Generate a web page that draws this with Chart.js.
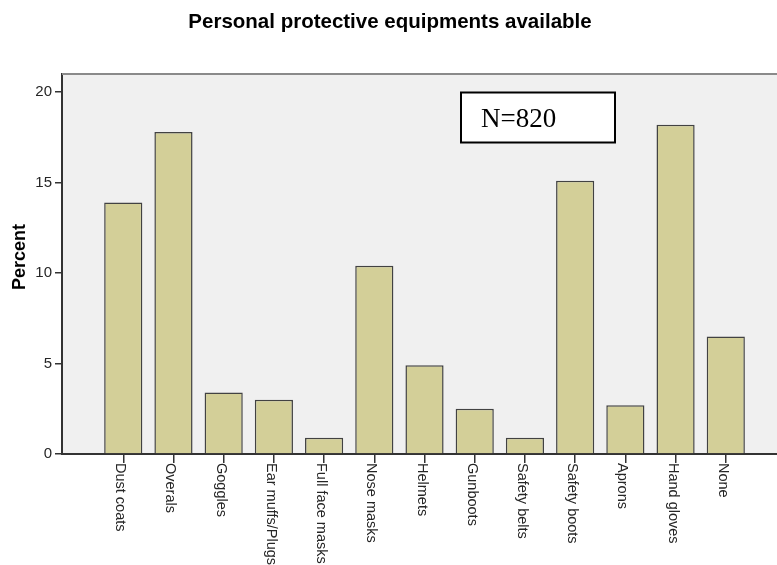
<!DOCTYPE html>
<html>
<head>
<meta charset="utf-8">
<script src="https://cdn.jsdelivr.net/npm/chart.js@4/dist/chart.umd.min.js"></script>
<style>
html,body{margin:0;padding:0;background:#fff;overflow:hidden;}
canvas{display:block;}
</style>
</head>
<body>
<canvas id="c" width="777" height="565"></canvas>
<script>
const chartTitle = 'Personal protective equipments available';
const yAxisTitle = 'Percent';
const noteText = 'N=820';
const categories = ['Dust coats','Overals','Goggles','Ear muffs/Plugs','Full face masks','Nose masks','Helmets','Gunboots','Safety belts','Safety boots','Aprons','Hand gloves','None'];
const percentValues = [13.9, 17.8, 3.4, 3.0, 0.9, 10.4, 4.9, 2.5, 0.9, 15.1, 2.7, 18.2, 6.5];
const yTickValues = [0, 5, 10, 15, 20];

const SANS = '"Liberation Sans", Arial, sans-serif';

const decorPlugin = {
  id: 'decor',
  beforeDraw(chart) {
    const {ctx, chartArea: a} = chart;
    ctx.save();
    ctx.fillStyle = '#f0f0f0';
    ctx.fillRect(a.left, a.top, a.right - a.left, a.bottom - a.top);
    ctx.restore();
  },
  afterDraw(chart) {
    const {ctx, chartArea: a} = chart;
    const xs = chart.scales.x;
    ctx.save();
    // top border of plot
    ctx.strokeStyle = '#8a8a8a';
    ctx.lineWidth = 2;
    ctx.beginPath();
    ctx.moveTo(a.left, a.top);
    ctx.lineTo(a.right, a.top);
    ctx.stroke();
    // chart title
    ctx.fillStyle = '#000';
    ctx.font = 'bold 20.5px ' + SANS;
    ctx.textAlign = 'center';
    ctx.textBaseline = 'alphabetic';
    ctx.fillText(chartTitle, 390, 27.5);
    // y axis title
    ctx.save();
    ctx.translate(20.5, 257);
    ctx.rotate(-Math.PI / 2);
    ctx.textBaseline = 'middle';
    ctx.font = 'bold 18px ' + SANS;
    ctx.fillText(yAxisTitle, 0, 0);
    ctx.restore();
    // category labels rotated clockwise
    ctx.font = '14.5px ' + SANS;
    ctx.fillStyle = '#262626';
    ctx.textAlign = 'left';
    ctx.textBaseline = 'middle';
    categories.forEach((lab, i) => {
      const x = xs.getPixelForValue(i);
      ctx.save();
      ctx.translate(x, a.bottom + 9);
      ctx.rotate(Math.PI / 2);
      ctx.fillText(lab, 0, 3);
      ctx.restore();
    });
    // N box
    ctx.fillStyle = '#fff';
    ctx.fillRect(461, 92.5, 154, 50);
    ctx.strokeStyle = '#000';
    ctx.lineWidth = 2;
    ctx.strokeRect(461, 92.5, 154, 50);
    ctx.fillStyle = '#000';
    ctx.font = '27px "Liberation Serif", "Times New Roman", serif';
    ctx.textAlign = 'left';
    ctx.textBaseline = 'alphabetic';
    ctx.fillText(noteText, 481, 127);
    ctx.restore();
  }
};

new Chart(document.getElementById('c'), {
  type: 'bar',
  data: {
    datasets: [{
      data: percentValues.map((v, i) => ({x: i, y: v})),
      backgroundColor: '#d3cf98',
      borderColor: '#424242',
      borderWidth: 1.5,
      barPercentage: 0.76,
      categoryPercentage: 1
    }]
  },
  options: {
    responsive: false,
    animation: false,
    devicePixelRatio: 1,
    layout: {padding: {left: 0, top: 74, right: 0, bottom: 0}},
    plugins: {legend: {display: false}, tooltip: {enabled: false}, title: {display: false}},
    scales: {
      x: {
        type: 'linear',
        offset: false,
        min: -1.22,
        max: 13.02,
        afterBuildTicks(s) { s.ticks = categories.map((c, i) => ({value: i})); },
        afterFit(s) { s.height = 111; },
        ticks: {display: false},
        grid: {drawOnChartArea: false, offset: false, tickLength: 9, color: '#333', lineWidth: 1.5},
        border: {color: '#333', width: 2}
      },
      y: {
        min: 0,
        max: 21,
        afterBuildTicks(s) { s.ticks = yTickValues.map(v => ({value: v})); },
        afterFit(s) { s.width = 62; },
        ticks: {font: {size: 15, family: SANS}, color: '#262626', padding: 3},
        grid: {drawOnChartArea: false, tickLength: 7, color: '#333', lineWidth: 1.5},
        border: {color: '#333', width: 2}
      }
    }
  },
  plugins: [decorPlugin]
});
</script>
</body>
</html>
